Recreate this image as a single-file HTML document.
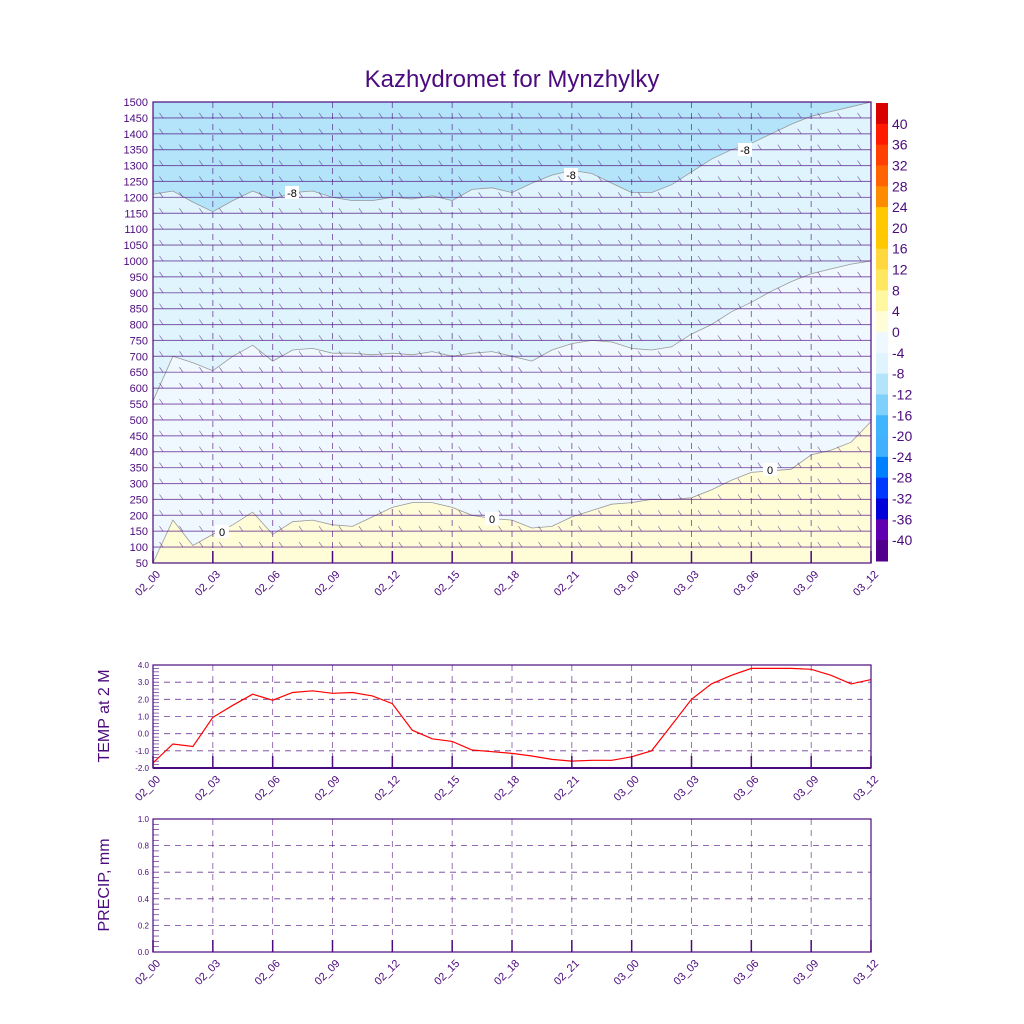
<!DOCTYPE html>
<html><head><meta charset="utf-8"><style>
body{margin:0;background:#fff}
svg{display:block;font-family:"Liberation Sans",sans-serif}
</style></head><body>
<svg id="chart" width="1024" height="1024" viewBox="0 0 1024 1024" xmlns="http://www.w3.org/2000/svg">
<text x="512" y="87" text-anchor="middle" font-size="24" fill="#4b0a7d">Kazhydromet for Mynzhylky</text>
</svg>
<script>
const timeLabels=["02_00","02_03","02_06","02_09","02_12","02_15","02_18","02_21","03_00","03_03","03_06","03_09","03_12"];
const levelTicks=[50,100,150,200,250,300,350,400,450,500,550,600,650,700,750,800,850,900,950,1000,1050,1100,1150,1200,1250,1300,1350,1400,1450,1500];
const isoM8=[1210,1220,1185,1155,1190,1220,1195,1215,1220,1200,1190,1190,1200,1195,1205,1190,1225,1230,1215,1245,1270,1285,1275,1245,1215,1215,1240,1280,1320,1350,1370,1400,1430,1455,1470,1485,1500];
const isoM4=[560,700,680,655,700,735,685,720,725,710,710,705,710,705,715,700,710,715,700,685,720,740,750,745,725,720,730,770,800,840,870,905,935,960,975,990,1000];
const iso0=[50,185,105,140,170,210,140,180,185,170,165,195,225,240,240,225,200,190,185,160,165,195,215,235,240,250,250,255,280,310,335,340,345,390,405,430,495];
const temp2m=[-1.7,-0.6,-0.75,0.95,1.65,2.3,1.95,2.4,2.5,2.35,2.4,2.2,1.75,0.2,-0.3,-0.45,-0.95,-1.05,-1.15,-1.3,-1.5,-1.6,-1.55,-1.55,-1.35,-1.0,0.5,2.0,2.9,3.4,3.8,3.8,3.8,3.75,3.4,2.9,3.15];
const tempTicks=["-2.0","-1.0","0.0","1.0","2.0","3.0","4.0"];
const precipTicks=["0.0","0.2","0.4","0.6","0.8","1.0"];
const cbLabels=[40,36,32,28,24,20,16,12,8,4,0,-4,-8,-12,-16,-20,-24,-28,-32,-36,-40];
const cbColors=["#d90000","#ff1a00","#ff4000","#ff6400","#ff8c00","#ffc800","#ffc800","#ffd840","#ffe860","#fff8a0","#fffcd8","#f0f8ff","#dff4fc","#b4e4fa","#7fd0fa","#40b4fc","#40b0ff","#0080ff","#0038ff","#0000d8","#6000b0","#50008c"];

const svg=document.getElementById('chart');
const NS='http://www.w3.org/2000/svg';
const P='#4b0a7d';
function el(tag,attrs,parent){const e=document.createElementNS(NS,tag);for(const k in attrs)e.setAttribute(k,attrs[k]);(parent||svg).appendChild(e);return e;}
const X0=153,X1=871;
const xs=h=>X0+(X1-X0)*h/36;
const yL=v=>563-(563-102)*(v-50)/1450;
const yT=v=>768-(768-665)*(v+2)/6;
const yP=v=>952-(952-819)*v;

const main=el('g',{});


el('rect',{x:X0,y:102,width:X1-X0,height:461,fill:'#b4e4fa'},main);
function area(arr,color,name){
  let d='M'+X0+',563';
  arr.forEach((v,i)=>d+='L'+xs(i).toFixed(1)+','+yL(v).toFixed(1));
  d+='L'+X1+',563Z';
  const p=el('path',{d:d,fill:color,stroke:'#999',"stroke-width":0.8},main);
  
  
}
area(isoM8,'#dff4fc','region-minus8');
area(isoM4,'#f0f8ff','region-minus4');
area(iso0,'#fffcd8','region-0');

levelTicks.forEach((lv,i)=>{
  if(lv===50||lv===1500)return;
  const y=yL(lv);
  el('line',{x1:X0,y1:y,x2:X1,y2:y,stroke:P,"stroke-width":1.1,opacity:0.6},main);
  for(let h=0;h<36;h++){
    const x=xs(h)+8;
    el('line',{x1:x-1.5,y1:y-5,x2:x+2,y2:y,stroke:P,"stroke-width":0.7,opacity:0.6},main);
  }
});
for(let i=1;i<12;i++){
  el('line',{x1:xs(i*3),y1:102,x2:xs(i*3),y2:563,stroke:P,"stroke-width":1,"stroke-dasharray":"6,5",opacity:0.6},main);
}
[[292,193,'-8'],[571,175,'-8'],[745,150,'-8'],[222,532,'0'],[492,519,'0'],[770,470,'0']].forEach(c=>{
  el('rect',{x:c[0]-7,y:c[1]-7,width:14,height:13,fill:'#fff'},main);
  const t=el('text',{x:c[0],y:c[1]+4,"font-size":11,"text-anchor":"middle",fill:'#000'},main);t.textContent=c[2];
  
  
});
el('rect',{x:X0,y:102,width:X1-X0,height:461,fill:'none',stroke:P,"stroke-width":1.2},main);
levelTicks.forEach(lv=>{
  const t=el('text',{x:148,y:yL(lv)+4,"font-size":11,"text-anchor":"end",fill:P});t.textContent=lv;
  
  
});
function xLabels(yb){
  timeLabels.forEach((s,i)=>{
    const x=xs(i*3);
    el('line',{x1:x,y1:yb,x2:x,y2:yb-12,stroke:P,"stroke-width":1.5});
    const t=el('text',{x:x+8,y:yb+12,"font-size":11,"text-anchor":"end",fill:P,transform:`rotate(-45 ${x+8} ${yb+12})`});t.textContent=s;
    
    
  });
}
xLabels(563);

const cb=el('g',{});


const bh=(561-103)/cbColors.length;
cbColors.forEach((c,i)=>el('rect',{x:876,y:103+i*bh,width:12,height:bh+0.5,fill:c},cb));
cbLabels.forEach((v,i)=>{
  const t=el('text',{x:892,y:103+(i+1)*bh+5,"font-size":14,fill:P},cb);t.textContent=v;
  
  
});

const tg=el('g',{});


tempTicks.forEach((s,i)=>{
  const y=yT(-2+i);
  if(i>0&&i<6)el('line',{x1:X0,y1:y,x2:X1,y2:y,stroke:P,"stroke-width":0.8,"stroke-dasharray":"6,5",opacity:0.8},tg);
  const t=el('text',{x:149,y:y+3,"font-size":8,"text-anchor":"end",fill:P},tg);t.textContent=s;
  for(let k=1;k<5&&i<6;k++)el('line',{x1:X0,y1:y-k*(yT(0)-yT(1))/5,x2:X0+6,y2:y-k*(yT(0)-yT(1))/5,stroke:P,"stroke-width":0.6},tg);
});
for(let i=1;i<12;i++)el('line',{x1:xs(i*3),y1:665,x2:xs(i*3),y2:768,stroke:P,"stroke-width":0.8,"stroke-dasharray":"6,5",opacity:0.7},tg);
let d='';temp2m.forEach((v,i)=>d+=(i?'L':'M')+xs(i).toFixed(1)+','+yT(v).toFixed(1));
const tl=el('path',{d:d,fill:'none',stroke:'#ff0000',"stroke-width":1.2},tg);


el('rect',{x:X0,y:665,width:X1-X0,height:103,fill:'none',stroke:P,"stroke-width":1.2},tg);
el('line',{x1:X0,y1:768,x2:X1,y2:768,stroke:P,"stroke-width":2},tg);
const ty=el('text',{x:109,y:716,"font-size":16,"text-anchor":"middle",fill:P,transform:'rotate(-90 109 716)'},tg);ty.textContent='TEMP at 2 M';


xLabels(768);

const pg=el('g',{});


precipTicks.forEach((s,i)=>{
  const y=yP(i*0.2);
  if(i>0&&i<5)el('line',{x1:X0,y1:y,x2:X1,y2:y,stroke:P,"stroke-width":0.8,"stroke-dasharray":"6,5",opacity:0.8},pg);
  const t=el('text',{x:149,y:y+3,"font-size":8,"text-anchor":"end",fill:P},pg);t.textContent=s;
  for(let k=1;k<5&&i<5;k++)el('line',{x1:X0,y1:y-k*5.32,x2:X0+6,y2:y-k*5.32,stroke:P,"stroke-width":0.6},pg);
});
for(let i=1;i<12;i++)el('line',{x1:xs(i*3),y1:819,x2:xs(i*3),y2:952,stroke:P,"stroke-width":0.8,"stroke-dasharray":"6,5",opacity:0.7},pg);
el('rect',{x:X0,y:819,width:X1-X0,height:133,fill:'none',stroke:P,"stroke-width":1.2},pg);
const py=el('text',{x:109,y:885,"font-size":16,"text-anchor":"middle",fill:P,transform:'rotate(-90 109 885)'},pg);py.textContent='PRECIP, mm';


xLabels(952);
</script>
</body></html>
